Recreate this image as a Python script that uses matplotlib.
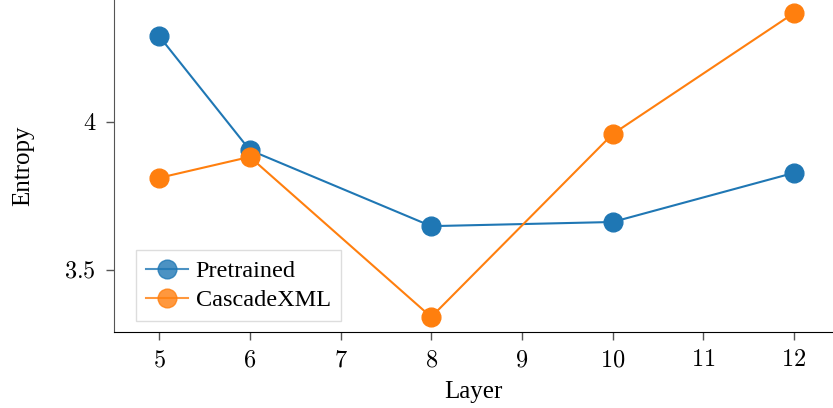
import matplotlib
matplotlib.use("Agg")
import matplotlib.pyplot as plt
from matplotlib.ticker import FuncFormatter

layers = [5, 6, 8, 10, 12]
pretrained = [4.29, 3.905, 3.648, 3.662, 3.828]
cascadexml = [3.811, 3.882, 3.341, 3.959, 4.368]
xticks = [5, 6, 7, 8, 9, 10, 11, 12]
yticks = [3.5, 4.0]

plt.rcParams['font.family'] = ['Liberation Serif', 'DejaVu Serif']
plt.rcParams['mathtext.fontset'] = 'cm'

fig = plt.figure(figsize=(8.33, 4.08), dpi=100)
ax = fig.add_axes([0.137, 0.186, 0.863, 0.814])

ax.plot(layers, pretrained, color='#1f77b4', marker='o', markersize=13.5, linewidth=1.5, label='Pretrained')
ax.plot(layers, cascadexml, color='#ff7f0e', marker='o', markersize=13.5, linewidth=1.5, label='CascadeXML')

ax.set_xlim(4.504, 12.43)
ax.set_ylim(3.29, 4.412)
ax.set_xticks(xticks)
ax.set_yticks(yticks)
ax.xaxis.set_major_formatter(FuncFormatter(lambda v, p: r'$%d$' % v))
ax.yaxis.set_major_formatter(FuncFormatter(lambda v, p: r'$%g$' % v))
ax.tick_params(labelsize=17.5, length=6, width=1, color='#555555', pad=7)
for s in ['top', 'right']:
    ax.spines[s].set_visible(False)
ax.spines['left'].set_color('#555555')
ax.spines['bottom'].set_color('black')

ax.set_xlabel('Layer', fontsize=18, labelpad=7)
ax.set_ylabel('Entropy', fontsize=18, labelpad=22)

leg = ax.legend(loc='lower left', bbox_to_anchor=(0.0306, 0.033), borderaxespad=0,
                fontsize=17.5, fancybox=False,
                edgecolor='#dddddd', framealpha=1, handlelength=1.75, borderpad=0.4,
                labelspacing=0.3, handletextpad=0.3, markerscale=1.0)
for h in leg.legend_handles:
    h.set_alpha(0.8)

fig.savefig('out.png', dpi=100)
